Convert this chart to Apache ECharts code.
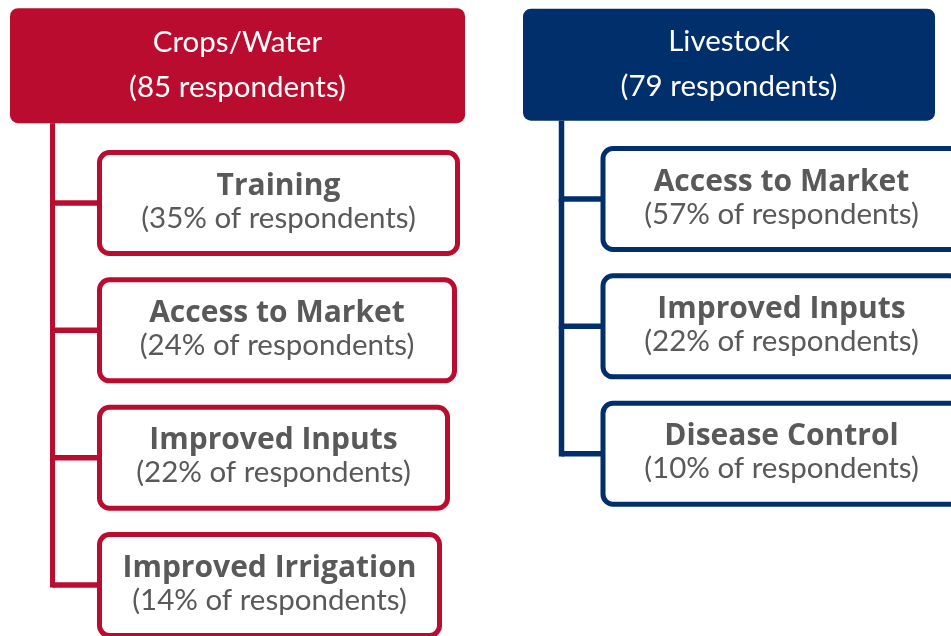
<!DOCTYPE html>
<html>
<head>
<meta charset="utf-8">
<script src="https://cdn.jsdelivr.net/npm/echarts@6/dist/echarts.min.js"></script>
<style>
html,body{margin:0;padding:0;background:#fff;}
#chart{width:951px;height:636px;}
</style>
</head>
<body>
<div id="chart"></div>
<script>
// ---- data ----
const groups = ['Crops/Water', 'Livestock'];
const groupRespondents = [85, 79];
const cropsFactors = ['Training', 'Access to Market', 'Improved Inputs', 'Improved Irrigation'];
const cropsShares = [35, 24, 22, 14];
const livestockFactors = ['Access to Market', 'Improved Inputs', 'Disease Control'];
const livestockShares = [57, 22, 10];

// ---- layout / style (not data) ----
const groupColors = ['#BA0C2F', '#002F6C'];
const layout = [
  { boxLeft: 44.5, boxWidths: [363, 360, 353, 345], headerLeft: -42.5, headerWidth: 455, headerHeight: 115, headerDy: -10, yShift: 0, lineW: 5 },
  { boxLeft: 39, boxWidths: [362, 362, 362], headerLeft: -38.5, headerWidth: 412, headerHeight: 112, headerDy: -7, yShift: -4, lineW: 5.5 }
];
const FONT = 'Lato, "Open Sans", sans-serif';
const BOLD_FONT = '"Open Sans", Lato, sans-serif';
const TEXT_GRAY = '#595959';

const factors = [cropsFactors, livestockFactors];
const shares = [cropsShares, livestockShares];

const nodes = [];
groups.forEach((g, c) => {
  nodes.push({ col: c, row: 0, kind: 'header', title: g, sub: '(' + groupRespondents[c] + ' respondents)' });
  factors[c].forEach((f, i) => {
    nodes.push({ col: c, row: i + 1, kind: 'item', title: f, sub: '(' + shares[c][i] + '% of respondents)' });
  });
});

function headerCenter(col, api) {
  const L = layout[col];
  const p = api.coord([col, 0]);
  return p[1] + L.yShift + L.headerDy;
}

function renderItem(params, api) {
  const n = nodes[params.dataIndex];
  const L = layout[n.col];
  const color = groupColors[n.col];
  const p = api.coord([api.value(0), api.value(1)]);
  const lx = p[0];
  const cy = p[1] + L.yShift;
  const children = [];
  if (n.kind === 'header') {
    const hy = cy + L.headerDy;
    const x = lx + L.headerLeft;
    children.push({
      type: 'rect',
      shape: { x: x, y: hy - L.headerHeight / 2, width: L.headerWidth, height: L.headerHeight, r: 8 },
      style: { fill: color }
    });
    children.push({
      type: 'text',
      style: { text: n.title, x: x + L.headerWidth / 2, y: hy - 23, align: 'center', verticalAlign: 'middle',
        fill: '#fff', fontSize: 29.5, fontFamily: FONT, fontWeight: 'normal' }
    });
    children.push({
      type: 'text',
      style: { text: n.sub, x: x + L.headerWidth / 2, y: hy + 22, align: 'center', verticalAlign: 'middle',
        fill: '#fff', fontSize: 29.5, fontFamily: FONT, fontWeight: 'normal' }
    });
  } else {
    let topY;
    if (n.row === 1) {
      topY = headerCenter(n.col, api) + L.headerHeight / 2;
    } else {
      topY = api.coord([n.col, n.row - 1])[1] + L.yShift;
    }
    children.push({
      type: 'line',
      shape: { x1: lx, y1: topY, x2: lx, y2: cy + L.lineW / 2 },
      style: { stroke: color, lineWidth: L.lineW }
    });
    const outerLeft = lx + L.boxLeft;
    children.push({
      type: 'line',
      shape: { x1: lx, y1: cy, x2: outerLeft + 3, y2: cy },
      style: { stroke: color, lineWidth: 5.5 }
    });
    const w = L.boxWidths[n.row - 1];
    const bw = 5;
    children.push({
      type: 'rect',
      shape: { x: outerLeft + bw / 2, y: cy - 53 + bw / 2, width: w - bw, height: 106 - bw, r: 10 },
      style: { fill: '#fff', stroke: color, lineWidth: bw }
    });
    const tx = outerLeft + w / 2;
    children.push({
      type: 'text',
      style: { text: n.title, x: tx, y: cy - 17, align: 'center', verticalAlign: 'middle',
        fill: TEXT_GRAY, fontSize: 30, fontFamily: BOLD_FONT, fontWeight: 'bold' }
    });
    children.push({
      type: 'text',
      style: { text: n.sub, x: tx, y: cy + 15, align: 'center', verticalAlign: 'middle',
        fill: TEXT_GRAY, fontSize: 29.5, fontFamily: FONT, fontWeight: 'normal' }
    });
  }
  return { type: 'group', children: children };
}

const chart = echarts.init(document.getElementById('chart'), null, { renderer: 'canvas' });
chart.setOption({
  animation: false,
  backgroundColor: '#fff',
  grid: { left: 52.5, top: 12, width: 509, bottom: 0 },
  xAxis: { type: 'value', min: 0, max: 1, show: false, splitLine: { show: false } },
  yAxis: { type: 'value', min: -0.5, max: 4.4, inverse: true, show: false, splitLine: { show: false } },
  series: [{
    type: 'custom',
    clip: false,
    renderItem: renderItem,
    data: nodes.map(n => [n.col, n.row])
  }]
});
</script>
</body>
</html>
